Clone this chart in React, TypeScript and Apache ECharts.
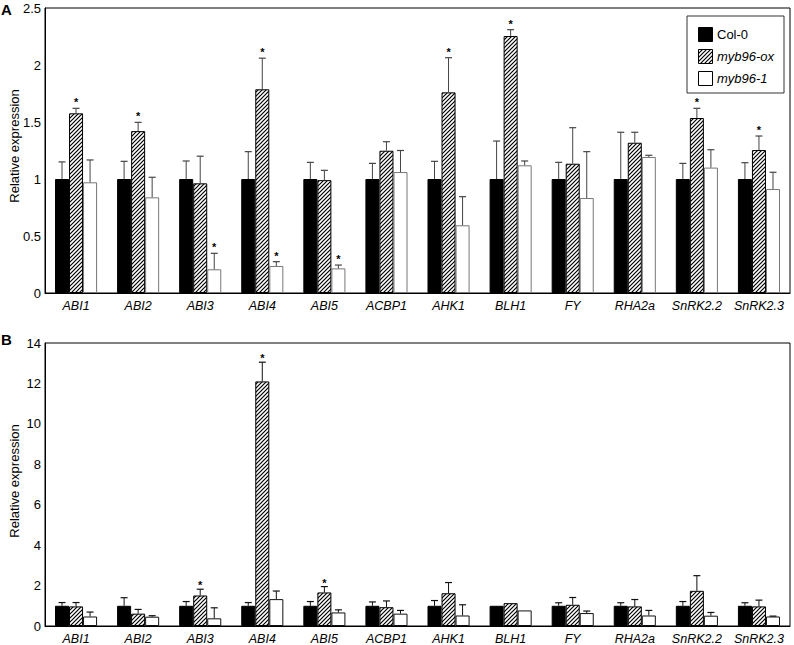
import React, { useEffect, useRef } from "react";
import * as echarts from "echarts";

const genes = ["ABI1", "ABI2", "ABI3", "ABI4", "ABI5", "ACBP1", "AHK1", "BLH1", "FY", "RHA2a", "SnRK2.2", "SnRK2.3"];
const seriesNames = ["Col-0", "myb96-ox", "myb96-1"];

// Panel A values and upper error-bar ends
const aCol = [1, 1, 1, 1, 1, 1, 1, 1, 1, 1, 1, 1];
const aColErr = [1.15, 1.155, 1.158, 1.24, 1.146, 1.137, 1.155, 1.333, 1.146, 1.41, 1.137, 1.143];
const aOx = [1.576, 1.42, 0.962, 1.787, 0.99, 1.248, 1.76, 2.254, 1.134, 1.318, 1.535, 1.254];
const aOxErr = [1.62, 1.497, 1.2, 2.06, 1.076, 1.327, 2.064, 2.31, 1.45, 1.41, 1.62, 1.377];
const aKo = [0.971, 0.839, 0.208, 0.237, 0.216, 1.061, 0.594, 1.12, 0.833, 1.193, 1.1, 0.912];
const aKoErr = [1.167, 1.015, 0.348, 0.275, 0.245, 1.25, 0.845, 1.158, 1.24, 1.208, 1.257, 1.059];
const aColStar = [0, 0, 0, 0, 0, 0, 0, 0, 0, 0, 0, 0];
const aOxStar = [1, 1, 0, 1, 0, 0, 1, 1, 0, 0, 1, 1];
const aKoStar = [0, 0, 1, 1, 1, 0, 0, 0, 0, 0, 0, 0];

// Panel B values and upper error-bar ends
const bCol = [1, 1, 1, 1, 1, 1, 1, 1, 1, 1, 1, 1];
const bColErr = [1.16, 1.4, 1.21, 1.16, 1.21, 1.19, 1.26, 1, 1.15, 1.15, 1.21, 1.15];
const bOx = [0.97, 0.61, 1.51, 12.1, 1.66, 0.93, 1.62, 1.13, 1.05, 0.97, 1.74, 0.97];
const bOxErr = [1.16, 0.82, 1.82, 13.05, 1.95, 1.24, 2.15, 1.13, 1.41, 1.31, 2.49, 1.28];
const bKo = [0.47, 0.46, 0.38, 1.33, 0.67, 0.61, 0.52, 0.77, 0.64, 0.52, 0.51, 0.47];
const bKoErr = [0.69, 0.51, 0.9, 1.73, 0.8, 0.77, 1.05, 0.77, 0.74, 0.77, 0.67, 0.49];
const bColStar = [0, 0, 0, 0, 0, 0, 0, 0, 0, 0, 0, 0];
const bOxStar = [0, 0, 1, 1, 1, 0, 0, 0, 0, 0, 0, 0];
const bKoStar = [0, 0, 0, 0, 0, 0, 0, 0, 0, 0, 0, 0];

const aTicks = { min: 0, max: 2.5, interval: 0.5 };
const bTicks = { min: 0, max: 14, interval: 2 };

const FONT = "'Liberation Sans', Arial, sans-serif";
const BAR_FRAC = 0.226;

function makeHatch() {
  const s = 4;
  const c = document.createElement("canvas");
  c.width = s;
  c.height = s;
  const ctx = c.getContext("2d")!;
  ctx.fillStyle = "#fff";
  ctx.fillRect(0, 0, s, s);
  ctx.strokeStyle = "#000";
  ctx.lineWidth = 1.2;
  ctx.beginPath();
  ctx.moveTo(0, s);
  ctx.lineTo(s, 0);
  ctx.moveTo(-1, 1);
  ctx.lineTo(1, -1);
  ctx.moveTo(s - 1, s + 1);
  ctx.lineTo(s + 1, s - 1);
  ctx.stroke();
  return { image: c.toDataURL(), repeat: "repeat", imageWidth: s, imageHeight: s } as any;
}

export default function App() {
  const ref = useRef<HTMLDivElement>(null);
  useEffect(() => {
    if (!ref.current) return;
    const chart = echarts.init(ref.current, undefined, { renderer: "svg" });
    const hatch = makeHatch();

    const xAxisBase = (gi: number) => ({
      type: "category",
      gridIndex: gi,
      data: genes,
      axisTick: { show: false },
      axisLine: { lineStyle: { color: "#000", width: 1 } },
      axisLabel: { color: "#000", fontSize: 12.5, fontStyle: "italic", fontFamily: FONT, margin: 6, interval: 0 },
    });
    const yAxisBase = (gi: number, t: any) => ({
      type: "value",
      gridIndex: gi,
      min: t.min,
      max: t.max,
      interval: t.interval,
      axisTick: { show: false },
      splitLine: { show: false },
      axisLine: { show: true, lineStyle: { color: "#000", width: 1 } },
      axisLabel: { color: "#000", fontSize: 13, fontFamily: FONT, margin: 4 },
    });

    const barStyles = (panel: number) => [
      { color: "#000", borderColor: "#000", borderWidth: 1 },
      { color: hatch, borderColor: "#000", borderWidth: 1 },
      { color: "#fff", borderColor: panel === 0 ? "#777" : "#111", borderWidth: 1 },
    ];

    const series: any[] = [];
    const panels = [
      { vals: [aCol, aOx, aKo], errs: [aColErr, aOxErr, aKoErr], stars: [aColStar, aOxStar, aKoStar], errColor: "#444", starOff: 6 },
      { vals: [bCol, bOx, bKo], errs: [bColErr, bOxErr, bKoErr], stars: [bColStar, bOxStar, bKoStar], errColor: "#111", starOff: 4 },
    ];
    panels.forEach((p, gi) => {
      const styles = barStyles(gi);
      p.vals.forEach((vals, k) => {
        series.push({
          type: "bar",
          name: seriesNames[k],
          xAxisIndex: gi,
          yAxisIndex: gi,
          data: vals,
          barWidth: BAR_FRAC * 100 + "%",
          barGap: "0%",
          itemStyle: styles[k],
          emphasis: { disabled: true },
          silent: true,
        });
      });
      p.vals.forEach((vals, k) => {
        const data = vals.map((v, i) => [i, v, p.errs[k][i], p.stars[k][i]]);
        series.push({
          type: "custom",
          xAxisIndex: gi,
          yAxisIndex: gi,
          z: 5,
          silent: true,
          data,
          renderItem: (params: any, api: any) => {
            const ci = api.value(0);
            const v = api.value(1);
            const e = api.value(2);
            const star = api.value(3);
            const band = api.size([1, 0])[0];
            const bw = band * BAR_FRAC;
            const p0 = api.coord([ci, v]);
            const p1 = api.coord([ci, e]);
            const x = p0[0] + (k - 1) * bw;
            const children: any[] = [];
            const cap = 7;
            if (e > v) {
              children.push({
                type: "line",
                shape: { x1: x, y1: p0[1], x2: x, y2: p1[1] },
                style: { stroke: p.errColor, lineWidth: 1 },
              });
              children.push({
                type: "line",
                shape: { x1: x - cap / 2, y1: p1[1], x2: x + cap / 2, y2: p1[1] },
                style: { stroke: p.errColor, lineWidth: 1.2 },
              });
            }
            if (star) {
              children.push({
                type: "text",
                x: x,
                y: Math.min(p0[1], p1[1]) - p.starOff,
                style: { text: "*", fill: "#000", font: "bold 11px " + FONT, textAlign: "center", textVerticalAlign: "middle" },
              });
            }
            return { type: "group", children };
          },
        });
      });
    });

    const legendRows = [
      { y: 27, fill: "#000", stroke: "#000", text: "Col-0", italic: false },
      { y: 49, fill: hatch, stroke: "#000", text: "myb96-ox", italic: true },
      { y: 71, fill: "#fff", stroke: "#000", text: "myb96-1", italic: true },
    ];
    const graphic: any[] = [
      { type: "text", left: 1, top: 2, style: { text: "A", font: "bold 15px " + FONT, fill: "#000" } },
      { type: "text", left: 1, top: 332, style: { text: "B", font: "bold 15px " + FONT, fill: "#000" } },
      {
        type: "text", x: 14, y: 146, rotation: Math.PI / 2,
        style: { text: "Relative expression", font: "13px " + FONT, fill: "#000", textAlign: "center", textVerticalAlign: "middle" },
      },
      {
        type: "text", x: 14, y: 481, rotation: Math.PI / 2,
        style: { text: "Relative expression", font: "13px " + FONT, fill: "#000", textAlign: "center", textVerticalAlign: "middle" },
      },
      { type: "rect", shape: { x: 687, y: 16, width: 97, height: 77 }, style: { fill: "#fff", stroke: "#333", lineWidth: 1 }, z: 10 },
    ];
    legendRows.forEach((r) => {
      graphic.push({ type: "rect", shape: { x: 698.5, y: r.y + 0.5, width: 14, height: 14 }, style: { fill: r.fill, stroke: r.stroke, lineWidth: 1 }, z: 11 });
      graphic.push({
        type: "text", x: 717, y: r.y + 7.5,
        style: { text: r.text, font: (r.italic ? "italic " : "") + "13px " + FONT, fill: "#000", textVerticalAlign: "middle" },
        z: 11,
      });
    });

    chart.setOption({
      animation: false,
      backgroundColor: "#fff",
      grid: [
        { left: 45, top: 8, right: 4, height: 285, show: true, borderColor: "#000", borderWidth: 1, backgroundColor: "transparent" },
        { left: 45, top: 343, right: 4, height: 285, show: true, borderColor: "#000", borderWidth: 1, backgroundColor: "transparent" },
      ],
      xAxis: [xAxisBase(0), xAxisBase(1)],
      yAxis: [yAxisBase(0, aTicks), yAxisBase(1, bTicks)],
      series,
      graphic,
    });
    return () => chart.dispose();
  }, []);
  return <div ref={ref} style={{ position: "fixed", left: 0, top: 0, width: 794, height: 645 }} />;
}
